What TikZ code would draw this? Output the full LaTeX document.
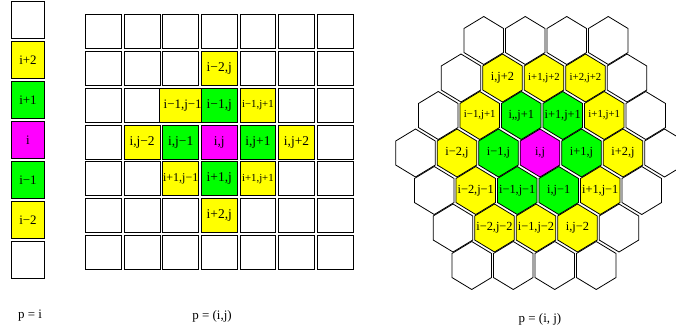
\documentclass[tikz,border=0pt]{standalone}
\usepackage{fontspec}
\setmainfont{Liberation Serif}
\usetikzlibrary{shapes.geometric}
\definecolor{cy}{RGB}{255,255,0}
\definecolor{cg}{RGB}{0,255,0}
\definecolor{cm}{RGB}{255,0,255}
\newcommand\hexL{\fontsize{12.4}{12.4}\selectfont}
\newcommand\hexS{\fontsize{10.8}{11}\selectfont}
\begin{document}
\begin{tikzpicture}[x=1bp,y=-1bp,
  colcell/.style={draw, line width=0.9bp, minimum width=32.6bp, minimum height=36.6bp,
    inner sep=0pt, outer sep=0pt, font=\fontsize{13}{13}\selectfont},
  gridcell/.style={draw, line width=0.9bp, minimum width=35.7bp, minimum height=34bp,
    inner sep=0pt, outer sep=0pt, font=\fontsize{13.5}{13.5}\selectfont},
  gsmall/.style={font=\fontsize{10.8}{11}\selectfont},
  hexline/.style={draw, line width=0.8bp},
  caption/.style={font=\fontsize{13}{13}\selectfont, inner sep=0pt}]
\useasboundingbox (0,0) rectangle (676,335);

% ---- left column ----
\node[colcell] (c0) at (28,20) {};
\node[colcell, fill=cy] (c1) at (28,60) {i+2};
\node[colcell, fill=cg] (c2) at (28,100) {i+1};
\node[colcell, fill=cm] (c3) at (28,140) {i};
\node[colcell, fill=cg] (c4) at (28,180) {i−1};
\node[colcell, fill=cy] (c5) at (28,220) {i−2};
\node[colcell] (c6) at (28,260) {};
\node[caption] (pc) at (30,316) {p = i};

% ---- square grid ----
\foreach \r/\cols in {0/{0,1,2,3,4,5,6}, 1/{0,1,2,4,5,6}, 2/{0,1,5,6}, 3/{0,6},
                      4/{0,1,5,6}, 5/{0,1,2,4,5,6}, 6/{0,1,2,3,4,5,6}}{
  \foreach \c in \cols{
    \node[gridcell] (g-\r-\c) at (103.5+38.6*\c, 31.3+36.9*\r) {};
  }
}
\node[gridcell, fill=cy] (g-1-3) at (103.5+38.6*3, 31.3+36.9*1) {i−2,j};
\node[gridcell, fill=cy, font=\fontsize{13}{13}\selectfont] (g-2-2) at (103.5+38.6*2, 31.3+36.9*2) {\hspace{4bp}i−1,j−1};
\node[gridcell, fill=cg] (g-2-3) at (103.5+38.6*3, 31.3+36.9*2) {i−1,j};
\node[gridcell, fill=cy, gsmall] (g-2-4) at (103.5+38.6*4, 31.3+36.9*2) {i−1,j+1};
\node[gridcell, fill=cy] (g-3-1) at (103.5+38.6*1, 31.3+36.9*3) {i,j−2};
\node[gridcell, fill=cg] (g-3-2) at (103.5+38.6*2, 31.3+36.9*3) {i,j−1};
\node[gridcell, fill=cm] (g-3-3) at (103.5+38.6*3, 31.3+36.9*3) {i,j};
\node[gridcell, fill=cg] (g-3-4) at (103.5+38.6*4, 31.3+36.9*3) {i,j+1};
\node[gridcell, fill=cy] (g-3-5) at (103.5+38.6*5, 31.3+36.9*3) {i,j+2};
\node[gridcell, fill=cy, font=\fontsize{12}{12}\selectfont] (g-4-2) at (103.5+38.6*2, 31.3+36.9*4) {i+1,j−1};
\node[gridcell, fill=cg] (g-4-3) at (103.5+38.6*3, 31.3+36.9*4) {i+1,j};
\node[gridcell, fill=cy, gsmall] (g-4-4) at (103.5+38.6*4, 31.3+36.9*4) {i+1,j+1};
\node[gridcell, fill=cy] (g-5-3) at (103.5+38.6*3, 31.3+36.9*5) {i+2,j};
\node[caption] (pg) at (212,316) {p = (i,j)};

% ---- hexagonal grid ----
\foreach \k/\u/\c/\f/\t [count=\n] in {
  3/-1.5/white/\hexL/{}, 3/-0.5/white/\hexL/{}, 3/0.5/white/\hexL/{}, 3/1.5/white/\hexL/{},
  2/-2/white/\hexL/{}, 2/-1/cy/\hexL/{i,j+2}, 2/0/cy/\hexS/{i+1,j+2}, 2/1/cy/\hexS/{i+2,j+2}, 2/2/white/\hexL/{},
  1/-2.5/white/\hexL/{}, 1/-1.5/cy/\hexS/{i−1,j+1}, 1/-0.5/cg/\hexL/{i,,j+1}, 1/0.5/cg/\hexL/{i+1,j+1}, 1/1.5/cy/\hexS/{i+1,j+1}, 1/2.5/white/\hexL/{},
  0/-3/white/\hexL/{}, 0/-2/cy/\hexL/{i−2,j}, 0/-1/cg/\hexL/{i−1,j}, 0/0/cm/\hexL/{i,j}, 0/1/cg/\hexL/{i+1,j}, 0/2/cy/\hexL/{i+2,j}, 0/3/white/\hexL/{},
  -1/-2.5/white/\hexL/{}, -1/-1.5/cy/\hexL/{i−2,j−1}, -1/-0.5/cg/\hexL/{i−1,j−1}, -1/0.5/cg/\hexL/{i,j−1}, -1/1.5/cy/\hexL/{i+1,j−1}, -1/2.5/white/\hexL/{},
  -2/-2/white/\hexL/{}, -2/-1/cy/\hexL/{i−2,j−2}, -2/0/cy/\hexL/{i−1,j−2}, -2/1/cy/\hexL/{i,j−2}, -2/2/white/\hexL/{},
  -3/-1.5/white/\hexL/{}, -3/-0.5/white/\hexL/{}, -3/0.5/white/\hexL/{}, -3/1.5/white/\hexL/{}}{
  \pgfmathsetmacro\hx{540+41.5*\u+2*\k}
  \pgfmathsetmacro\hy{153-37.5*\k}
  \draw[hexline, fill=\c] (\hx,\hy) +(19.8,-12) -- +(0,-24) -- +(-19.8,-12)
     -- +(-19.8,12) -- +(0,24) -- +(19.8,12) -- cycle;
  \node[font=\f, inner sep=0pt] (hex\n) at (\hx,\hy) {\t};
}
\node[caption] (ph) at (540,319) {p = (i, j)};
\end{tikzpicture}
\end{document}
